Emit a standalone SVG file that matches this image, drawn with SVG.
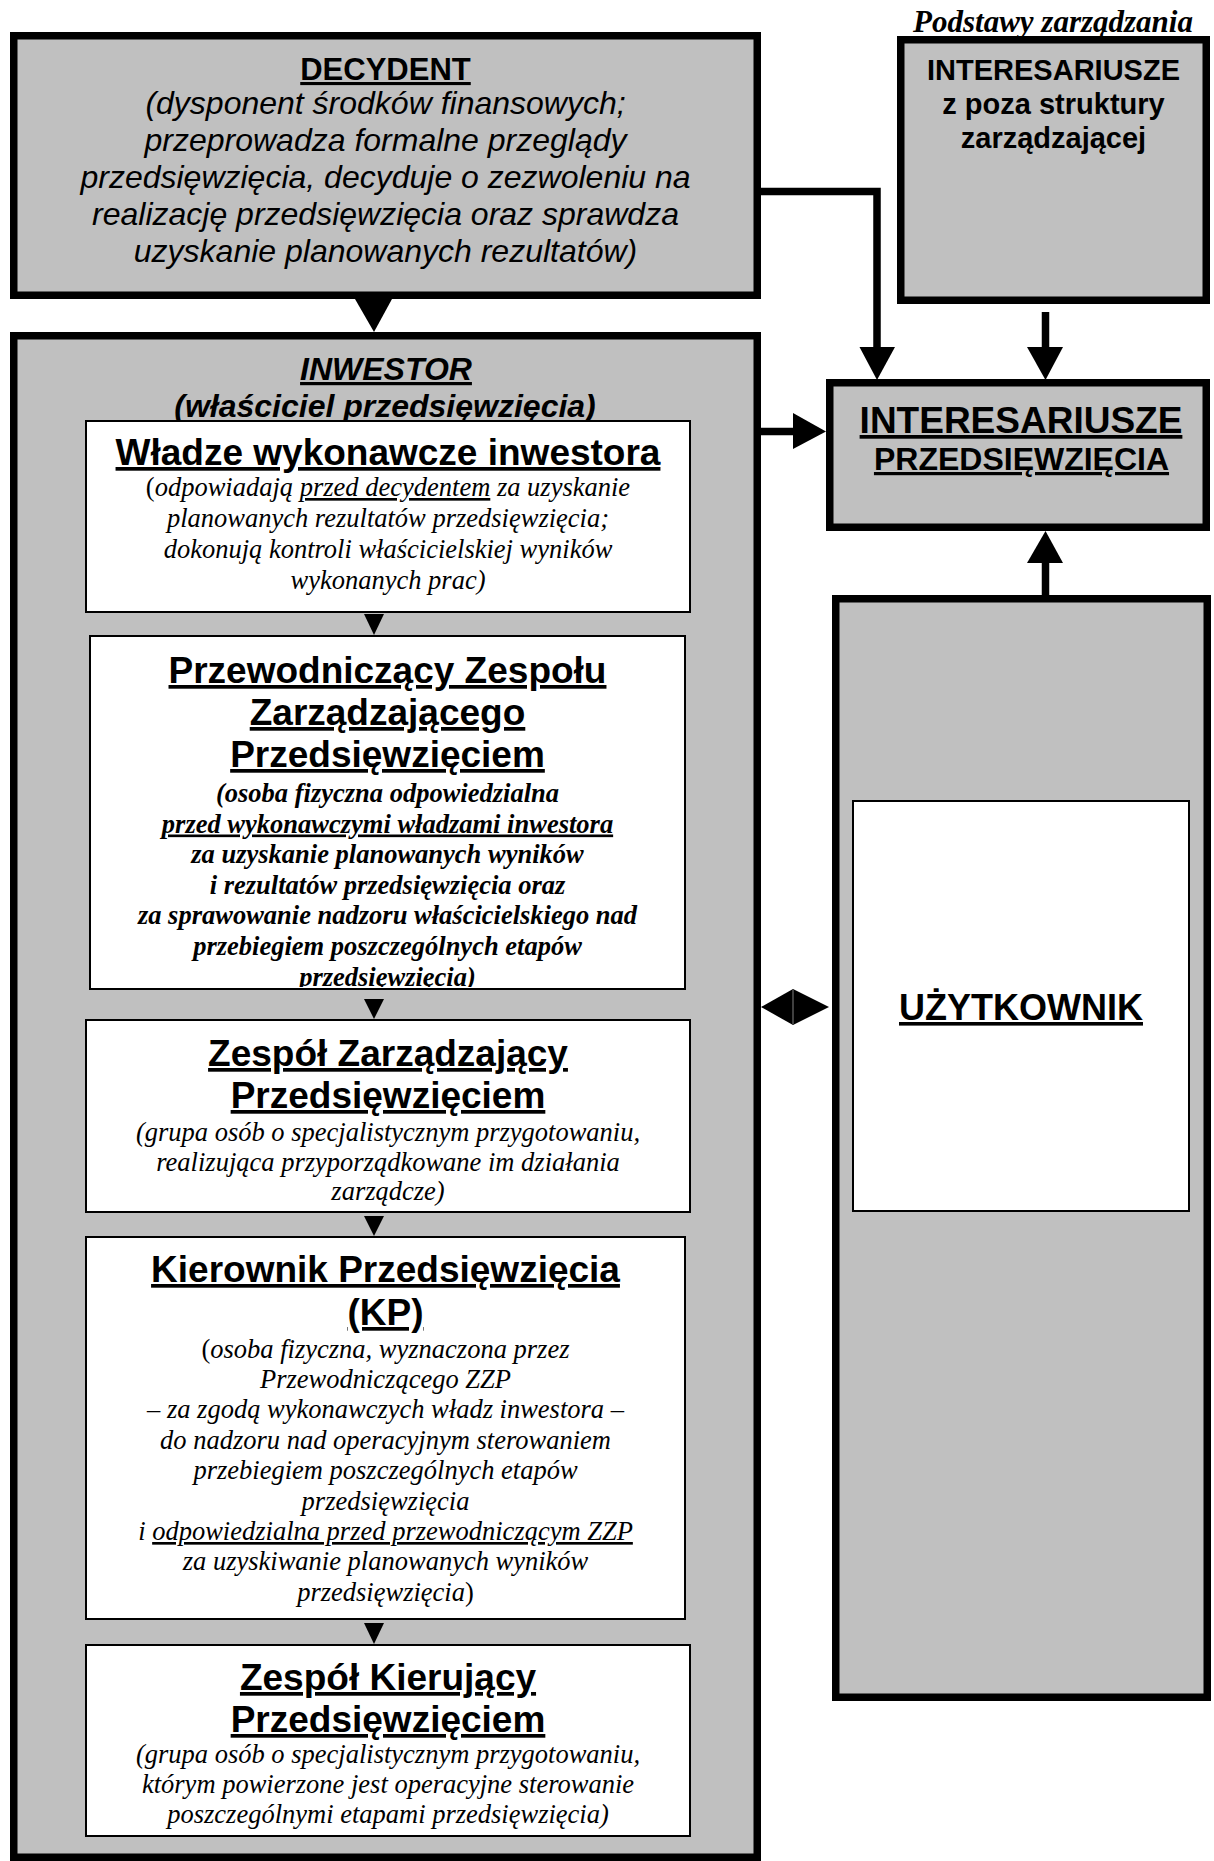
<svg xmlns="http://www.w3.org/2000/svg" width="1214" height="1861" viewBox="0 0 1214 1861">
<style>
.gray{fill:#c0c0c0;stroke:#000;stroke-width:7.5}
.white{fill:#fff;stroke:#000;stroke-width:2}
.sans{font-family:"Liberation Sans",Arial,sans-serif;text-anchor:middle;fill:#000}
.serif{font-family:"Liberation Serif","Times New Roman",serif;text-anchor:middle;fill:#000}
.b{font-weight:bold}
.i{font-style:italic}
.n{font-style:normal}
.u{text-decoration:underline}
.title{font-size:37px;font-weight:bold;text-decoration:underline}
.body{font-size:26.5px;font-style:italic}
.line{fill:none;stroke:#000;stroke-width:7.5}
.head{fill:#000;stroke:none}
</style>
<defs>
<clipPath id="clipPZZ"><rect x="91" y="637" width="593" height="350"/></clipPath>
</defs>

<g id="decydent">
<rect class="gray" x="13.75" y="35.75" width="743.5" height="259.5"/>
<text class="sans b u" x="385.5" y="80" font-size="31">DECYDENT</text>
<text class="sans i" font-size="32"><tspan x="385.5" y="113.5">(dysponent środków finansowych;</tspan><tspan x="385.5" y="150.5">przeprowadza formalne przeglądy</tspan><tspan x="385.5" y="187.5">przedsięwzięcia, decyduje o zezwoleniu na</tspan><tspan x="385.5" y="224.5">realizację przedsięwzięcia oraz sprawdza</tspan><tspan x="385.5" y="261.5">uzyskanie planowanych rezultatów)</tspan></text>
</g>

<g id="podstawy">
<text class="serif b i" x="1053" y="32" font-size="31">Podstawy zarządzania</text>
</g>

<g id="interesariusze-zewn">
<rect class="gray" x="900.75" y="39.75" width="305.5" height="260.5"/>
<text class="sans b" font-size="29"><tspan x="1053.5" y="80">INTERESARIUSZE</tspan><tspan x="1053.5" y="114">z poza struktury</tspan><tspan x="1053.5" y="148">zarządzającej</tspan></text>
</g>

<g id="interesariusze-przedsiewziecia">
<rect class="gray" x="829.75" y="382.75" width="376.5" height="144.5"/>
<text class="sans b u" x="1021" y="433" font-size="37">INTERESARIUSZE</text>
<text class="sans b u" x="1021.5" y="470" font-size="32">PRZEDSIĘWZIĘCIA</text>
</g>

<g id="inwestor">
<rect class="gray" x="13.75" y="335.75" width="743.5" height="1521.5"/>
<text class="sans b i u" x="386" y="380" font-size="32">INWESTOR</text>
<text class="sans b i" x="385" y="417" font-size="32">(właściciel przedsięwzięcia)</text>
</g>

<g id="wladze">
<rect class="white" x="86" y="421" width="604" height="191"/>
<text class="sans title" x="388" y="465">Władze wykonawcze inwestora</text>
<text class="serif body"><tspan x="388" y="496"><tspan class="n">(</tspan>odpowiadają <tspan class="u">przed decydentem</tspan> za uzyskanie</tspan><tspan x="388" y="527">planowanych rezultatów przedsięwzięcia;</tspan><tspan x="388" y="558">dokonują kontroli właścicielskiej wyników</tspan><tspan x="388" y="589">wykonanych prac)</tspan></text>
</g>

<g id="przewodniczacy">
<rect class="white" x="90" y="636" width="595" height="353"/>
<text class="sans title" x="387.5" y="683">Przewodniczący Zespołu</text>
<text class="sans title" x="387.5" y="725">Zarządzającego</text>
<text class="sans title" x="387.5" y="767">Przedsięwzięciem</text>
<text class="serif body b" clip-path="url(#clipPZZ)"><tspan x="387.5" y="802">(osoba fizyczna odpowiedzialna</tspan><tspan x="387.5" y="832.5" class="u">przed wykonawczymi władzami inwestora</tspan><tspan x="387.5" y="863">za uzyskanie planowanych wyników</tspan><tspan x="387.5" y="893.5">i rezultatów przedsięwzięcia oraz</tspan><tspan x="387.5" y="924">za sprawowanie nadzoru właścicielskiego nad</tspan><tspan x="387.5" y="954.5">przebiegiem poszczególnych etapów</tspan><tspan x="387.5" y="985.5">przedsięwzięcia)</tspan></text>
</g>

<g id="zespol-zarzadzajacy">
<rect class="white" x="86" y="1020" width="604" height="192"/>
<text class="sans title" x="388" y="1066">Zespół Zarządzający</text>
<text class="sans title" x="388" y="1108">Przedsięwzięciem</text>
<text class="serif body"><tspan x="388" y="1141">(grupa osób o specjalistycznym przygotowaniu,</tspan><tspan x="388" y="1171">realizująca przyporządkowane im działania</tspan><tspan x="388" y="1200">zarządcze)</tspan></text>
</g>

<g id="kierownik">
<rect class="white" x="86" y="1237" width="599" height="382"/>
<text class="sans title" x="385.5" y="1282">Kierownik Przedsięwzięcia</text>
<text class="sans title" x="385.5" y="1325">(KP)</text>
<text class="serif body"><tspan x="385.5" y="1357.5"><tspan class="n">(</tspan>osoba fizyczna, wyznaczona przez</tspan><tspan x="385.5" y="1388">Przewodniczącego ZZP</tspan><tspan x="385.5" y="1418">– za zgodą wykonawczych władz inwestora –</tspan><tspan x="385.5" y="1448.5">do nadzoru nad operacyjnym sterowaniem</tspan><tspan x="385.5" y="1479">przebiegiem poszczególnych etapów</tspan><tspan x="385.5" y="1509.5">przedsięwzięcia</tspan><tspan x="385.5" y="1540">i <tspan class="u">odpowiedzialna przed przewodniczącym ZZP</tspan></tspan><tspan x="385.5" y="1570">za uzyskiwanie planowanych wyników</tspan><tspan x="385.5" y="1600.5">przedsięwzięcia<tspan class="n">)</tspan></tspan></text>
</g>

<g id="zespol-kierujacy">
<rect class="white" x="86" y="1645" width="604" height="191"/>
<text class="sans title" x="388" y="1690">Zespół Kierujący</text>
<text class="sans title" x="388" y="1732">Przedsięwzięciem</text>
<text class="serif body"><tspan x="388" y="1763">(grupa osób o specjalistycznym przygotowaniu,</tspan><tspan x="388" y="1793">którym powierzone jest operacyjne sterowanie</tspan><tspan x="388" y="1823">poszczególnymi etapami przedsięwzięcia)</tspan></text>
</g>

<g id="uzytkownik">
<rect class="gray" x="835.75" y="598.75" width="371.5" height="1098.5"/>
<rect class="white" x="853" y="801" width="336" height="410"/>
<text class="sans b u" x="1021" y="1020" font-size="36">UŻYTKOWNIK</text>
</g>

<g id="connectors">
<polygon class="head" points="355,299 392,299 374,332"/>
<polyline class="line" points="761,191.5 877,191.5 877,348"/>
<polygon class="head" points="859.5,347 895,347 877,380"/>
<line class="line" x1="1045.5" y1="312" x2="1045.5" y2="348"/>
<polygon class="head" points="1027,347 1063,347 1045.5,380"/>
<line class="line" x1="761" y1="431.5" x2="794" y2="431.5"/>
<polygon class="head" points="793,413 793,449 826,431.5"/>
<line class="line" x1="1045.5" y1="595" x2="1045.5" y2="562"/>
<polygon class="head" points="1027,563 1063,563 1045.5,531"/>
<polygon class="head" points="761,1007 793,989 829,1007 793,1025"/>
<line x1="793" y1="990" x2="793" y2="1024" stroke="#808080" stroke-width="1"/>
<polygon class="head" points="364,614 384,614 374,635"/>
<polygon class="head" points="364,999 384,999 374,1019"/>
<polygon class="head" points="364,1216 384,1216 374,1236"/>
<polygon class="head" points="364,1623 384,1623 374,1644"/>
</g>
</svg>
